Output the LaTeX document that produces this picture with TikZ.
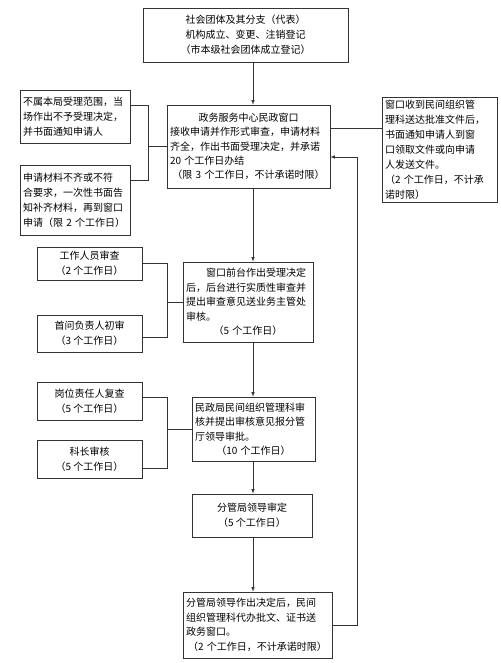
\documentclass[tikz,border=0pt]{standalone}
\usepackage{fontspec}
\newfontfamily\cjk{Noto Sans CJK SC}
\usepackage{tikz}
\tikzset{
  >=latex,
}
\tikzstyle{box}=[draw=black!80,line width=0.6pt,inner sep=3pt,font=\cjk\fontsize{10}{15}\selectfont]
\tikzstyle{link}=[draw=black!80,line width=0.6pt]
\newcommand{\ctr}[1]{\makebox[\linewidth][c]{#1}}

\begin{document}
\begin{tikzpicture}[x=1pt,y=-1pt]
    \useasboundingbox (0,0) rectangle (500,663);
    \coordinate (spine) at (253,0);
    % main column
    \node[box,minimum width=205,minimum height=54,text width=199,align=center] (top) at (245.5,35)
      {社会团体及其分支（代表）\\机构成立、变更、注销登记\\（市本级社会团体成立登记）};
    \node[box,minimum width=163,minimum height=83,text width=157,align=left,font=\cjk\fontsize{10}{14.3}\selectfont] (win) at (248.5,146.5)
      {\ctr{政务服务中心民政窗口}\\接收申请并作形式审查，申请材料\\齐全，作出书面受理决定，并承诺\\20 个工作日办结\\\ctr{（限 3 个工作日，不计承诺时限）}};
    \node[box,minimum width=130,minimum height=80,text width=124,align=left,font=\cjk\fontsize{10}{14.5}\selectfont] (front) at (248,302)
      {\hspace{2em}窗口前台作出受理决定\\后，后台进行实质性审查并\\提出审查意见送业务主管处\\审核。\\\ctr{（5 个工作日）}};
    \node[box,minimum width=123,minimum height=64,text width=117,align=left,font=\cjk\fontsize{10}{14.5}\selectfont] (dept) at (253.5,429)
      {民政局民间组织管理科审\\核并提出审核意见报分管\\厅领导审批。\\\ctr{（10 个工作日）}};
    \node[box,minimum width=120,minimum height=43,align=center] (lead) at (252,515.5)
      {分管局领导审定\\（5 个工作日）};
    \node[box,minimum width=149,minimum height=66,text width=143,align=left,font=\cjk\fontsize{10}{14.5}\selectfont] (final) at (257.5,625)
      {分管局领导作出决定后，民间\\组织管理科代办批文、证书送\\政务窗口。\\\ctr{（2 个工作日，不计承诺时限）}};
    % side boxes
    \node[box,minimum width=110,minimum height=53,text width=104,align=left] (rej) at (75,116.5)
      {不属本局受理范围，当\\场作出不予受理决定，\\并书面通知申请人};
    \node[box,minimum width=110,minimum height=70,text width=104,align=left] (supp) at (75,200)
      {申请材料不齐或不符\\合要求，一次性书面告\\知补齐材料，再到窗口\\申请（限 2 个工作日）};
    \node[box,minimum width=115,minimum height=104,text width=109,align=left] (notice) at (439.5,150)
      {窗口收到民间组织管\\理科送达批准文件后，\\书面通知申请人到窗\\口领取文件或向申请\\人发送文件。\\（2 个工作日，不计承\\诺时限）};
    \node[box,minimum width=105,minimum height=33,align=center] (staff) at (89.5,263.5)
      {工作人员审查\\（2 个工作日）};
    \node[box,minimum width=105,minimum height=37,align=center] (first) at (89.5,333.5)
      {首问负责人初审\\（3 个工作日）};
    \node[box,minimum width=105,minimum height=38,align=center] (post) at (89.5,401)
      {岗位责任人复查\\（5 个工作日）};
    \node[box,minimum width=105,minimum height=38,align=center] (chief) at (89.5,459)
      {科长审核\\（5 个工作日）};
    % arrows down the spine
    \draw[link,->] (top.south -| spine) -- (win.north -| spine);
    \draw[link,->] (win.south -| spine) -- (front.north -| spine);
    \draw[link,->] (front.south -| spine) -- (dept.north -| spine);
    \draw[link,->] (dept.south -| spine) -- (lead.north -| spine);
    \draw[link,->] (lead.south -| spine) -- (final.north -| spine);
    % brackets
    \draw[link] ([yshift=11pt]rej.east) -- ++(18,0) coordinate (j1) |- ([yshift=20pt]supp.east);
    \draw[link] (win.west) -- (win.west -| j1);
    \draw[link] (staff.east) -- ++(25,0) coordinate (j2) |- ([yshift=-4pt]first.east);
    \draw[link] (front.west) -- (front.west -| j2);
    \draw[link] ([yshift=4pt]post.east) -- ++(25,0) coordinate (j3) |- ([yshift=-9pt]chief.east);
    \draw[link] (dept.west) -- (dept.west -| j3);
    \draw[link] ([yshift=18pt]win.east) -- ([yshift=18pt]win.east -| notice.west);
    % feedback
    \draw[link,->] (final.east) -- ++(24.5,0) coordinate (j4) |- ([yshift=-10.5pt]win.east);
  \end{tikzpicture}
\end{document}
